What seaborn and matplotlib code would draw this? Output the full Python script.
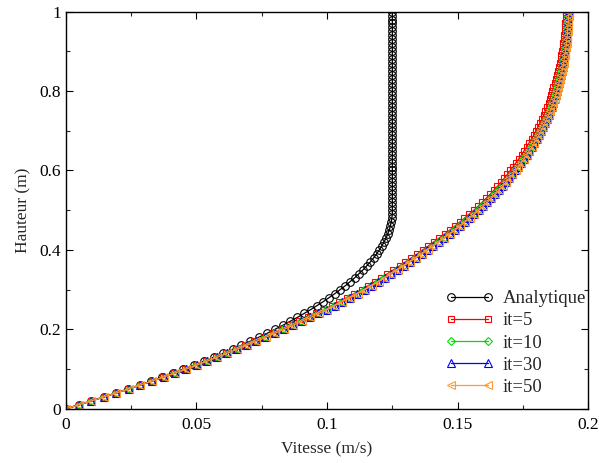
import matplotlib
matplotlib.use("Agg")
import matplotlib.pyplot as plt
from matplotlib.ticker import MultipleLocator, FormatStrFormatter
import seaborn as sns

# heights (m)
hauteur = [0.00, 0.01, 0.02, 0.03, 0.04, 0.05, 0.06, 0.07, 0.08, 0.09,
           0.10, 0.11, 0.12, 0.13, 0.14, 0.15, 0.16, 0.17, 0.18, 0.19,
           0.20, 0.21, 0.22, 0.23, 0.24, 0.25, 0.26, 0.27, 0.28, 0.29,
           0.30, 0.31, 0.32, 0.33, 0.34, 0.35, 0.36, 0.37, 0.38, 0.39,
           0.40, 0.41, 0.42, 0.43, 0.44, 0.45, 0.46, 0.47, 0.48, 0.49,
           0.50, 0.51, 0.52, 0.53, 0.54, 0.55, 0.56, 0.57, 0.58, 0.59,
           0.60, 0.61, 0.62, 0.63, 0.64, 0.65, 0.66, 0.67, 0.68, 0.69,
           0.70, 0.71, 0.72, 0.73, 0.74, 0.75, 0.76, 0.77, 0.78, 0.79,
           0.80, 0.81, 0.82, 0.83, 0.84, 0.85, 0.86, 0.87, 0.88, 0.89,
           0.90, 0.91, 0.92, 0.93, 0.94, 0.95, 0.96, 0.97, 0.98, 0.99,
           1.00]

u_analytique = [0.0000, 0.0050, 0.0098, 0.0146, 0.0192, 0.0238, 0.0282, 0.0326, 0.0368, 0.0410,
                0.0450, 0.0490, 0.0528, 0.0566, 0.0602, 0.0638, 0.0672, 0.0706, 0.0738, 0.0770,
                0.0800, 0.0830, 0.0858, 0.0886, 0.0912, 0.0938, 0.0962, 0.0986, 0.1008, 0.1030,
                0.1050, 0.1070, 0.1088, 0.1106, 0.1122, 0.1138, 0.1152, 0.1166, 0.1178, 0.1190,
                0.1200, 0.1210, 0.1218, 0.1226, 0.1232, 0.1238, 0.1242, 0.1246, 0.1248, 0.1250,
                0.1250, 0.1250, 0.1250, 0.1250, 0.1250, 0.1250, 0.1250, 0.1250, 0.1250, 0.1250,
                0.1250, 0.1250, 0.1250, 0.1250, 0.1250, 0.1250, 0.1250, 0.1250, 0.1250, 0.1250,
                0.1250, 0.1250, 0.1250, 0.1250, 0.1250, 0.1250, 0.1250, 0.1250, 0.1250, 0.1250,
                0.1250, 0.1250, 0.1250, 0.1250, 0.1250, 0.1250, 0.1250, 0.1250, 0.1250, 0.1250,
                0.1250, 0.1250, 0.1250, 0.1250, 0.1250, 0.1250, 0.1250, 0.1250, 0.1250, 0.1250,
                0.1250]

u_it5 = [0.0000, 0.0049, 0.0098, 0.0146, 0.0192, 0.0239, 0.0284, 0.0329, 0.0372, 0.0415,
         0.0457, 0.0497, 0.0537, 0.0576, 0.0613, 0.0650, 0.0686, 0.0722, 0.0758, 0.0792,
         0.0826, 0.0860, 0.0893, 0.0926, 0.0958, 0.0989, 0.1019, 0.1047, 0.1076, 0.1104,
         0.1132, 0.1157, 0.1183, 0.1207, 0.1231, 0.1254, 0.1278, 0.1300, 0.1323, 0.1345,
         0.1366, 0.1388, 0.1408, 0.1429, 0.1450, 0.1470, 0.1489, 0.1508, 0.1526, 0.1544,
         0.1562, 0.1578, 0.1594, 0.1609, 0.1624, 0.1638, 0.1652, 0.1665, 0.1678, 0.1690,
         0.1702, 0.1713, 0.1724, 0.1735, 0.1745, 0.1755, 0.1765, 0.1774, 0.1783, 0.1792,
         0.1800, 0.1808, 0.1816, 0.1823, 0.1830, 0.1836, 0.1842, 0.1848, 0.1853, 0.1858,
         0.1863, 0.1867, 0.1871, 0.1876, 0.1880, 0.1884, 0.1888, 0.1891, 0.1894, 0.1896,
         0.1899, 0.1902, 0.1904, 0.1906, 0.1908, 0.1910, 0.1911, 0.1912, 0.1914, 0.1915,
         0.1916]

u_it10 = [0.0000, 0.0049, 0.0098, 0.0146, 0.0193, 0.0240, 0.0285, 0.0330, 0.0374, 0.0417,
          0.0459, 0.0500, 0.0540, 0.0579, 0.0617, 0.0654, 0.0691, 0.0727, 0.0763, 0.0798,
          0.0833, 0.0867, 0.0901, 0.0934, 0.0966, 0.0997, 0.1027, 0.1056, 0.1085, 0.1114,
          0.1142, 0.1168, 0.1194, 0.1219, 0.1243, 0.1267, 0.1291, 0.1314, 0.1337, 0.1360,
          0.1382, 0.1404, 0.1425, 0.1446, 0.1467, 0.1487, 0.1506, 0.1525, 0.1543, 0.1561,
          0.1579, 0.1595, 0.1611, 0.1626, 0.1641, 0.1655, 0.1669, 0.1682, 0.1695, 0.1707,
          0.1719, 0.1730, 0.1741, 0.1752, 0.1762, 0.1772, 0.1782, 0.1791, 0.1800, 0.1809,
          0.1817, 0.1825, 0.1832, 0.1839, 0.1846, 0.1852, 0.1858, 0.1863, 0.1868, 0.1873,
          0.1877, 0.1881, 0.1885, 0.1889, 0.1893, 0.1897, 0.1900, 0.1903, 0.1905, 0.1907,
          0.1910, 0.1912, 0.1914, 0.1915, 0.1917, 0.1918, 0.1919, 0.1920, 0.1921, 0.1922,
          0.1923]

u_it30 = [0.0000, 0.0049, 0.0098, 0.0146, 0.0193, 0.0240, 0.0285, 0.0330, 0.0374, 0.0417,
          0.0460, 0.0501, 0.0541, 0.0580, 0.0618, 0.0655, 0.0692, 0.0728, 0.0764, 0.0799,
          0.0834, 0.0868, 0.0902, 0.0935, 0.0967, 0.0999, 0.1029, 0.1058, 0.1087, 0.1116,
          0.1144, 0.1170, 0.1196, 0.1221, 0.1245, 0.1269, 0.1293, 0.1316, 0.1339, 0.1362,
          0.1384, 0.1406, 0.1427, 0.1448, 0.1469, 0.1489, 0.1508, 0.1527, 0.1545, 0.1563,
          0.1581, 0.1597, 0.1613, 0.1628, 0.1643, 0.1657, 0.1671, 0.1684, 0.1697, 0.1709,
          0.1721, 0.1732, 0.1743, 0.1754, 0.1764, 0.1774, 0.1784, 0.1793, 0.1802, 0.1811,
          0.1819, 0.1827, 0.1834, 0.1841, 0.1848, 0.1854, 0.1860, 0.1865, 0.1870, 0.1875,
          0.1879, 0.1883, 0.1887, 0.1891, 0.1895, 0.1899, 0.1902, 0.1905, 0.1907, 0.1909,
          0.1912, 0.1914, 0.1916, 0.1917, 0.1919, 0.1920, 0.1921, 0.1922, 0.1923, 0.1924,
          0.1925]

u_it50 = [0.0000, 0.0049, 0.0098, 0.0146, 0.0193, 0.0240, 0.0285, 0.0330, 0.0374, 0.0417,
          0.0460, 0.0501, 0.0541, 0.0580, 0.0618, 0.0655, 0.0692, 0.0729, 0.0765, 0.0800,
          0.0835, 0.0869, 0.0903, 0.0936, 0.0968, 0.1000, 0.1030, 0.1059, 0.1088, 0.1117,
          0.1145, 0.1171, 0.1197, 0.1222, 0.1246, 0.1270, 0.1294, 0.1317, 0.1340, 0.1363,
          0.1385, 0.1407, 0.1428, 0.1449, 0.1470, 0.1490, 0.1509, 0.1528, 0.1546, 0.1564,
          0.1582, 0.1598, 0.1614, 0.1629, 0.1644, 0.1658, 0.1672, 0.1685, 0.1698, 0.1710,
          0.1722, 0.1733, 0.1744, 0.1755, 0.1765, 0.1775, 0.1785, 0.1794, 0.1803, 0.1812,
          0.1820, 0.1828, 0.1835, 0.1842, 0.1849, 0.1855, 0.1861, 0.1866, 0.1871, 0.1876,
          0.1880, 0.1884, 0.1888, 0.1892, 0.1896, 0.1900, 0.1903, 0.1906, 0.1908, 0.1910,
          0.1913, 0.1915, 0.1917, 0.1918, 0.1920, 0.1921, 0.1922, 0.1923, 0.1924, 0.1925,
          0.1926]

labels = ["Analytique", "it=5", "it=10", "it=30", "it=50"]
colors = ["black", "#ff0000", "#00dd00", "#0000ff", "#ff9a30"]
markers = ["o", "s", "D", "^", "<"]
msizes = [5.5, 5.0, 4.0, 5.5, 5.5]

#%%

sns.set_theme(style="ticks")
plt.rcParams["font.family"] = ["Liberation Serif", "DejaVu Serif"]
plt.rcParams["xtick.direction"] = "in"
plt.rcParams["ytick.direction"] = "in"
plt.rcParams["xtick.top"] = True
plt.rcParams["ytick.right"] = True

fig = plt.figure(figsize=(5.99, 4.63), dpi=100)
ax = fig.add_axes([0.110, 0.117, 0.872, 0.858])

series = [u_analytique, u_it5, u_it10, u_it30, u_it50]
for u, lab, col, mk, ms in zip(series, labels, colors, markers, msizes):
    sns.lineplot(x=u, y=hauteur, ax=ax, estimator=None, sort=False,
                 label=lab, color=col, linewidth=0.9, marker=mk,
                 markersize=ms, markerfacecolor="none",
                 markeredgecolor=col, markeredgewidth=0.8)

ax.set_xlim(0, 0.2)
ax.set_ylim(0, 1)
ax.xaxis.set_major_locator(MultipleLocator(0.05))
ax.xaxis.set_minor_locator(MultipleLocator(0.025))
ax.yaxis.set_major_locator(MultipleLocator(0.2))
ax.yaxis.set_minor_locator(MultipleLocator(0.1))
ax.xaxis.set_major_formatter(FormatStrFormatter("%g"))
ax.yaxis.set_major_formatter(FormatStrFormatter("%g"))
ax.tick_params(which="major", length=5, width=0.8, labelsize=12.5, colors="black")
ax.tick_params(which="minor", length=3, width=0.8, top=True, right=True)
ax.tick_params(axis="x", pad=6)
for s in ax.spines.values():
    s.set_linewidth(1.0)
    s.set_color("black")

ax.set_xlabel("Vitesse (m/s)", fontsize=12.5, labelpad=6)
ax.set_ylabel("Hauteur (m)", fontsize=12.5, labelpad=6)

ax.legend(loc="upper left", bbox_to_anchor=(0.712, 0.318), frameon=False,
          numpoints=2, handlelength=2.6, labelspacing=0.27,
          handletextpad=0.45, fontsize=13.5, borderaxespad=0)

fig.savefig("out.png", dpi=100)
